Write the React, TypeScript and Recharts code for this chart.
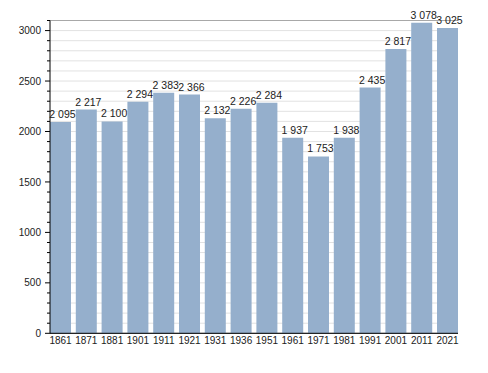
import React from "react";
import { BarChart, Bar, XAxis, YAxis, CartesianGrid, LabelList } from "recharts";

const years = ["1861", "1871", "1881", "1901", "1911", "1921", "1931", "1936", "1951", "1961", "1971", "1981", "1991", "2001", "2011", "2021"];
const population = [2095, 2217, 2100, 2294, 2383, 2366, 2132, 2226, 2284, 1937, 1753, 1938, 2435, 2817, 3078, 3025];
const minorTicks = Array.from({ length: 32 }, (_, i) => i * 100);
const majorTicks = [0, 500, 1000, 1500, 2000, 2500, 3000];

const data = years.map((y, i) => ({ year: y, pop: population[i] }));

const FONT = "'Liberation Sans', Arial, sans-serif";

const fmt = (v: number) => {
  const s = String(v);
  return s.length > 3 ? s.slice(0, s.length - 3) + " " + s.slice(-3) : s;
};

const YTick = (props: any) => {
  const { x, y, payload } = props;
  const major = payload.value % 500 === 0;
  return (
    <g>
      <line x1={x - (major ? 5 : 3)} x2={x} y1={y} y2={y} stroke="#000" strokeWidth={1} />
      {major && (
        <text x={x - 9} y={y} dy="0.36em" textAnchor="end" fontSize={10} fontFamily={FONT} fill="#222">
          {payload.value}
        </text>
      )}
    </g>
  );
};

const BarLabel = (props: any) => {
  const { x, y, width, value } = props;
  return (
    <text x={x + width / 2 + 2} y={y - 4} textAnchor="middle" fontSize={10.5} fontFamily={FONT} fill="#222">
      {fmt(Number(value))}
    </text>
  );
};

export default function App() {
  return (
    <div style={{ width: 480, height: 360 }}>
      <BarChart
        width={480}
        height={360}
        data={data}
        margin={{ top: 12.5, right: 30, bottom: 14.7, left: 0 }}
        barCategoryGap={2.4}
      >
        <CartesianGrid vertical={false} stroke="#e2e2e2" yAxisId="minor" />
        <CartesianGrid vertical={false} stroke="#a8a8a8" yAxisId="major" />
        <YAxis
          yAxisId="minor"
          width={42}
          domain={[0, 3100]}
          ticks={minorTicks}
          interval={0}
          type="number"
          tickSize={0}
          tickMargin={0}
          tickLine={false}
          tick={<YTick />}
          axisLine={{ stroke: "#000", strokeWidth: 1 }}
        />
        <YAxis yAxisId="major" hide width={0} domain={[0, 3100]} ticks={majorTicks} type="number" />
        <XAxis
          dataKey="year"
          height={20}
          padding={{ left: -2.4, right: -2.4 }}
          tickLine={false}
          tickSize={0}
          tickMargin={4}
          interval={0}
          axisLine={{ stroke: "#000", strokeWidth: 1 }}
          tick={{ fontSize: 10, fontFamily: FONT, fill: "#222" }}
        />
        <Bar dataKey="pop" yAxisId="minor" fill="#95afcc" isAnimationActive={false}>
          <LabelList dataKey="pop" content={<BarLabel />} />
        </Bar>
      </BarChart>
    </div>
  );
}
